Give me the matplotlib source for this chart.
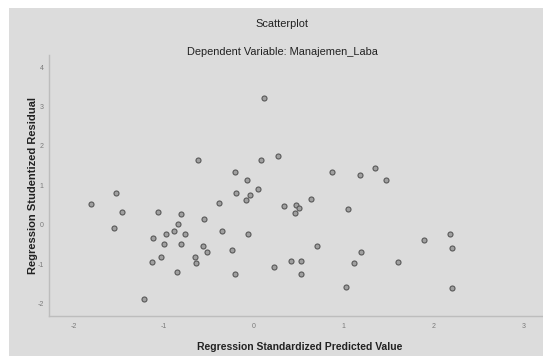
import matplotlib
matplotlib.use("Agg")
import matplotlib.pyplot as plt
from matplotlib.patches import Rectangle

plt.rcParams['font.family'] = ['Liberation Sans', 'DejaVu Sans']

pred = [-1.818, -1.539, -1.465, -1.558, -1.227, -1.071, -1.119, -1.130, -1.030, -0.996,
        -0.974, -0.885, -0.844, -0.807, -0.770, -0.814, -0.851, -0.654, -0.643, -0.628,
        -0.569, -0.558, -0.524, -0.394, -0.353, -0.245, -0.208, -0.197, -0.208, -0.093,
        -0.078, -0.041, -0.067, 0.048, 0.082, 0.108, 0.223, 0.271,
        0.867, 1.181, 1.344, 1.474, 0.633, 0.333, 0.463, 0.504, 0.459, 1.048,
        2.178, 1.893, 2.207, 0.696, 1.193, 0.415, 0.522, 1.115, 1.607, 0.519, 1.019, 2.200]
resid = [0.525, 0.797, 0.330, -0.093, -1.873, 0.314, -0.347, -0.958, -0.831, -0.500,
         -0.237, -0.161, 0.008, 0.263, -0.237, -0.490, -1.203, -0.814, -0.983, 1.653,
         -0.551, 0.136, -0.695, 0.559, -0.161, -0.644, 1.331, 0.797, -1.263, 0.636,
         1.144, 0.754, -0.229, 0.907, 1.653, 3.212, -1.085, 1.754,
         1.347, 1.263, 1.441, 1.136, 0.644, 0.475, 0.492, 0.432, 0.288, 0.398,
         -0.246, -0.398, -0.602, -0.534, -0.686, -0.924, -0.924, -0.983, -0.941, -1.246, -1.585, -1.619]

xticks = [-2, -1, 0, 1, 2, 3]
yticks = [-2, -1, 0, 1, 2, 3, 4]

W, H = 543, 356
BG = '#dcdcdc'
fig = plt.figure(figsize=(W / 100, H / 100), dpi=100, facecolor='white')
fig.patches.append(Rectangle((9 / W, 0), 1 - 9 / W, 1 - 8 / H, transform=fig.transFigure,
                             facecolor=BG, edgecolor='none', zorder=-10))

l, r, t, b = 49.3, 543, 55, 316
ax = fig.add_axes([l / W, 1 - b / H, (r - l) / W, (b - t) / H])
ax.patch.set_visible(False)
ax.scatter(pred, resid, s=13, facecolor='#a0a0a0', edgecolor='#585858', linewidths=0.8, zorder=3)
ax.set_xlim(-2.277, 3.215)
ax.set_ylim(-2.317, 4.307)
ax.set_xticks(xticks)
ax.set_yticks(yticks)
ax.set_xticklabels([str(v) for v in xticks])
ax.set_yticklabels([str(v) for v in yticks])
ax.tick_params(length=0, labelsize=5, labelcolor='#7a7a7a')
ax.tick_params(axis='y', pad=4)
ax.tick_params(axis='x', pad=5)
for s in ['top', 'right']:
    ax.spines[s].set_visible(False)
for s in ['left', 'bottom']:
    ax.spines[s].set_color('#bdbdbd')
    ax.spines[s].set_linewidth(1.0)

fig.text(282 / W, 1 - 24 / H, 'Scatterplot', ha='center', va='center', fontsize=7.9, color='#222222')
fig.text(282 / W, 1 - 52 / H, 'Dependent Variable: Manajemen_Laba', ha='center', va='center',
         fontsize=7.9, color='#222222')
fig.text(300 / W, 1 - 347 / H, 'Regression Standardized Predicted Value', ha='center', va='center',
         fontsize=7.5, fontweight='bold', color='#222222')
fig.text(33 / W, 1 - 185 / H, 'Regression Studentized Residual', ha='center', va='center',
         rotation=90, fontsize=8, fontweight='bold', color='#222222')

fig.savefig('out.png', dpi=100, facecolor='white')
